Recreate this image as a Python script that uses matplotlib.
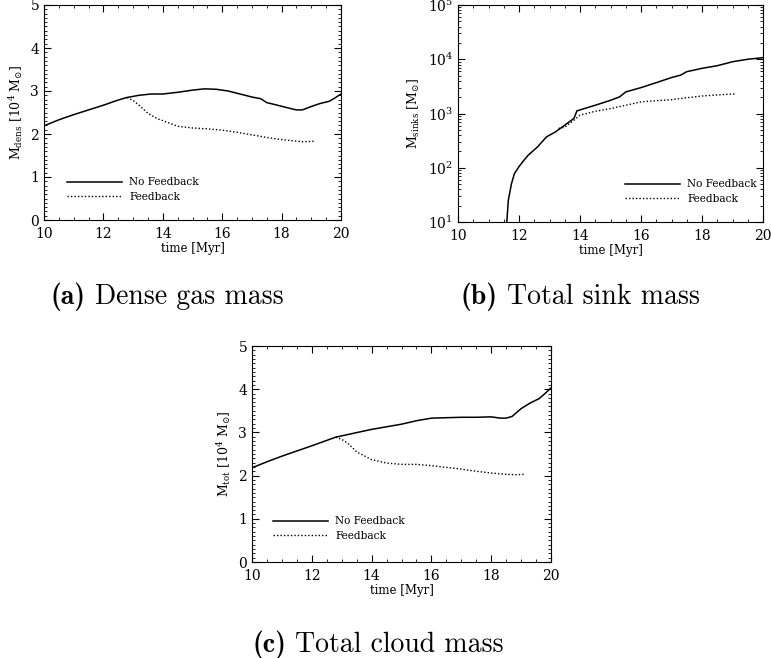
import matplotlib
matplotlib.use('Agg')

import matplotlib.pyplot as plt
from matplotlib.ticker import MultipleLocator, LogLocator, NullFormatter

plt.rcParams['font.family'] = 'DejaVu Serif'
plt.rcParams['mathtext.fontset'] = 'dejavuserif'

# Dense gas mass [10^4 Msun]
t_dens_nofb = [10.0, 10.5, 11.0, 11.5, 12.0, 12.5, 12.8, 13.2, 13.6, 14.0, 14.5, 15.0, 15.4, 15.8, 16.2, 16.6, 17.0, 17.3, 17.5, 17.8, 18.2, 18.5, 18.7, 19.0, 19.3, 19.6, 19.8, 20.0]
m_dens_nofb = [2.19, 2.33, 2.45, 2.56, 2.67, 2.79, 2.85, 2.90, 2.93, 2.93, 2.97, 3.02, 3.05, 3.04, 3.00, 2.93, 2.86, 2.82, 2.73, 2.68, 2.61, 2.56, 2.56, 2.64, 2.71, 2.76, 2.84, 2.93]
t_dens_fb = [12.8, 13.0, 13.2, 13.5, 13.8, 14.0, 14.5, 15.0, 15.5, 16.0, 16.5, 17.0, 17.5, 18.0, 18.4, 18.7, 19.1]
m_dens_fb = [2.85, 2.78, 2.67, 2.48, 2.36, 2.31, 2.18, 2.14, 2.12, 2.09, 2.04, 1.98, 1.92, 1.87, 1.84, 1.82, 1.83]

# Total sink mass [Msun]
t_sink_nofb = [11.6, 11.65, 11.75, 11.85, 12.0, 12.15, 12.3, 12.6, 12.9, 13.2, 13.5, 13.8, 13.9, 14.5, 15.0, 15.3, 15.5, 16.0, 16.5, 17.0, 17.3, 17.5, 18.0, 18.5, 19.0, 19.5, 20.0]
m_sink_nofb = [10, 25, 50, 78, 105, 135, 170, 240, 370, 460, 610, 810, 1120, 1420, 1750, 2030, 2500, 3000, 3700, 4600, 5100, 5900, 6800, 7600, 9000, 10000, 10700]
t_sink_fb = [13.3, 13.5, 13.8, 14.0, 14.5, 15.0, 15.5, 16.0, 16.5, 17.0, 17.5, 18.0, 18.5, 19.1]
m_sink_fb = [530, 560, 750, 930, 1100, 1230, 1420, 1640, 1720, 1800, 1950, 2100, 2200, 2300]

# Total cloud mass [10^4 Msun]
t_tot_nofb = [10.0, 10.5, 11.0, 11.5, 12.0, 12.4, 12.8, 13.4, 14.0, 14.5, 15.0, 15.5, 16.0, 16.5, 17.0, 17.5, 18.0, 18.3, 18.5, 18.7, 19.0, 19.3, 19.6, 19.8, 20.0]
m_tot_nofb = [2.18, 2.32, 2.45, 2.57, 2.69, 2.79, 2.89, 2.98, 3.07, 3.13, 3.19, 3.27, 3.33, 3.34, 3.35, 3.35, 3.36, 3.33, 3.33, 3.37, 3.55, 3.68, 3.78, 3.90, 4.03]
t_tot_fb = [12.8, 13.0, 13.2, 13.5, 14.0, 14.5, 15.0, 15.5, 16.0, 16.5, 17.0, 17.5, 18.0, 18.5, 18.8, 19.1]
m_tot_fb = [2.89, 2.84, 2.75, 2.55, 2.37, 2.29, 2.26, 2.26, 2.23, 2.19, 2.15, 2.10, 2.06, 2.03, 2.02, 2.03]

xticks = [10, 12, 14, 16, 18, 20]
cap_tags = ['(a)', '(b)', '(c)']
cap_texts = ['Dense gas mass', 'Total sink mass', 'Total cloud mass']
ylabels = [r'M$_{\mathrm{dens}}$ [10$^4$ M$_{\odot}$]', r'M$_{\mathrm{sinks}}$ [M$_{\odot}$]', r'M$_{\mathrm{tot}}$ [10$^4$ M$_{\odot}$]']

W, H = 771, 658
fig = plt.figure(figsize=(W / 100, H / 100), dpi=100)


def box(l, r, t, b):
    return [l / W, 1 - b / H, (r - l) / W, (b - t) / H]


def style(ax):
    ax.tick_params(which='both', direction='in', top=True, right=True, labelsize=10)
    ax.tick_params(axis='x', which='major', pad=5)
    ax.tick_params(which='major', length=5, width=0.8)
    ax.tick_params(which='minor', length=2.5, width=0.6)
    for s in ax.spines.values():
        s.set_linewidth(0.8)
    ax.set_xlim(10, 20)
    ax.set_xticks(xticks)
    ax.xaxis.set_minor_locator(MultipleLocator(0.5))
    ax.set_xlabel('time [Myr]', fontsize=8.5, labelpad=1)


axes = [fig.add_axes(box(44, 341, 5, 220)),
        fig.add_axes(box(458, 763, 5, 222)),
        fig.add_axes(box(252, 551, 346, 562))]

series = [(t_dens_nofb, m_dens_nofb, t_dens_fb, m_dens_fb),
          (t_sink_nofb, m_sink_nofb, t_sink_fb, m_sink_fb),
          (t_tot_nofb, m_tot_nofb, t_tot_fb, m_tot_fb)]

# legend anchor (upper left of the legend) in axes coords
leg_anchor = [(0.077, 0.198), (0.548, 0.196), (0.070, 0.211)]

for i, ax in enumerate(axes):
    tn, mn, tf, mf = series[i]
    ax.plot(tn, mn, color='black', lw=1.1, label='No Feedback')
    ax.plot(tf, mf, color='black', lw=1.0, ls=(0, (1, 1.5)), label='Feedback')
    style(ax)
    ax.set_ylabel(ylabels[i], fontsize=9)
    if i == 1:
        ax.set_yscale('log')
        ax.set_ylim(10, 1e5)
        ax.yaxis.set_minor_locator(LogLocator(base=10, subs=range(2, 10)))
        ax.yaxis.set_minor_formatter(NullFormatter())
    else:
        ax.set_ylim(0, 5)
        ax.yaxis.set_minor_locator(MultipleLocator(0.1))
    ax.legend(loc='upper left', bbox_to_anchor=leg_anchor[i], frameon=False,
              fontsize=7.6, handlelength=5.2, handletextpad=0.7, labelspacing=0.4,
              borderaxespad=0, borderpad=0)

# captions: bold tag + roman text (Computer Modern), centred under each panel
cap_pos = [(167, 304), (580, 304), (378, 652)]
cap_size = 20
renderer = fig.canvas.get_renderer()
for tag, txt, (cx, by) in zip(cap_tags, cap_texts, cap_pos):
    t1 = fig.text(0, 1 - by / H, tag, family='cmb10', fontsize=cap_size, va='baseline')
    t2 = fig.text(0, 1 - by / H, txt, family='cmr10', fontsize=cap_size, va='baseline')
    w1 = t1.get_window_extent(renderer).width
    w2 = t2.get_window_extent(renderer).width
    gap = 0.33 * cap_size * 100 / 72
    x0 = cx - (w1 + gap + w2) / 2
    t1.set_x(x0 / W)
    t2.set_x((x0 + w1 + gap) / W)

fig.savefig('out.png', dpi=100)
